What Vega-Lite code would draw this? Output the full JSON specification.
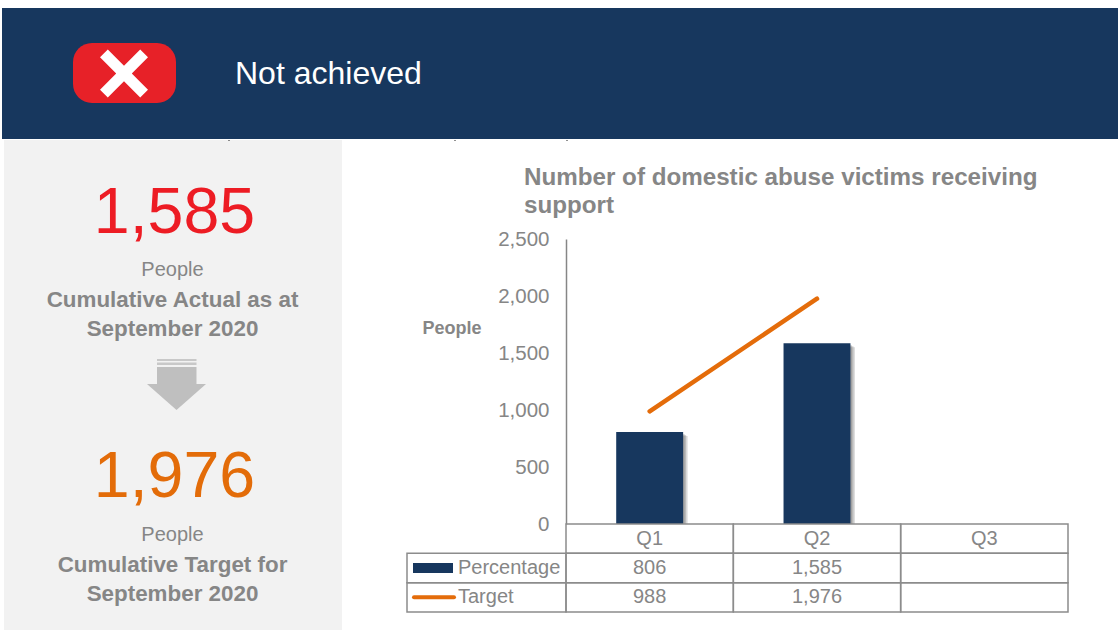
{
"$schema":"https://vega.github.io/schema/vega-lite/v6.json",
"background":"white",
"padding":{"left":2,"top":8,"right":0,"bottom":0},
"autosize":{"type":"pad","contains":"content"},
"config":{"view":{"stroke":null},"font":"Liberation Sans","text":{"font":"Liberation Sans"},"concat":{"spacing":0},"axis":{"labelFont":"Liberation Sans","titleFont":"Liberation Sans"}},
"datasets":{
"quarters":[{"quarter":"Q1","percentage":806,"target":988},{"quarter":"Q2","percentage":1585,"target":1976},{"quarter":"Q3"}],
"table":[
{"row":"Quarter","quarter":"Q1","label":"Q1"},{"row":"Quarter","quarter":"Q2","label":"Q2"},{"row":"Quarter","quarter":"Q3","label":"Q3"},
{"row":"Percentage","quarter":"Q1","label":"806"},{"row":"Percentage","quarter":"Q2","label":"1,585"},{"row":"Percentage","quarter":"Q3","label":""},
{"row":"Target","quarter":"Q1","label":"988"},{"row":"Target","quarter":"Q2","label":"1,976"},{"row":"Target","quarter":"Q3","label":""}],
"series":[{"row":"Percentage"},{"row":"Target"}]
},
"spacing":0,
"vconcat":[
{"width":1116,"height":131,"view":{"fill":"#17375E","stroke":null},
 "data":{"values":[{"status":"Not achieved"}]},
 "layer":[
  {"mark":{"type":"rect","fill":"#E72128","cornerRadius":19},"encoding":{
    "x":{"datum":73,"type":"quantitative","scale":{"domain":[2,1118],"nice":false,"zero":false},"axis":null},"x2":{"datum":176},
    "y":{"datum":43,"type":"quantitative","scale":{"domain":[139,8],"nice":false,"zero":false},"axis":null},"y2":{"datum":103}}},
  {"mark":{"type":"point","filled":true,"fill":"white","opacity":1,"strokeWidth":0,"size":2304,"shape":"M-1 -0.675L-0.675 -1L0 -0.325L0.675 -1L1 -0.675L0.325 0L1 0.675L0.675 1L0 0.325L-0.675 1L-1 0.675L-0.325 0Z"},"encoding":{
    "x":{"datum":124,"type":"quantitative"},"y":{"datum":73.5,"type":"quantitative"}}},
  {"mark":{"type":"text","align":"left","baseline":"middle","fontSize":32,"color":"white","font":"Liberation Sans"},"encoding":{
    "x":{"datum":235,"type":"quantitative"},"y":{"datum":74,"type":"quantitative"},"text":{"field":"status"}}}
 ]},
{"hconcat":[
 {"width":340,"height":491,
  "data":{"values":[{"big":"1,585","big2":"1,976","unit":"People","a1":"Cumulative Actual as at","a2":"September 2020","t1":"Cumulative Target for","t2":"September 2020"}]},
  "layer":[
  {"mark":{"type":"rect","fill":"#F2F2F2"},"encoding":{
    "x":{"datum":4,"type":"quantitative","scale":{"domain":[2,342],"nice":false,"zero":false},"axis":null},"x2":{"datum":342},
    "y":{"datum":139,"type":"quantitative","scale":{"domain":[630,139],"nice":false,"zero":false},"axis":null},"y2":{"datum":630}}},
  {"mark":{"type":"rule","stroke":"#222222","strokeWidth":1},"encoding":{"x":{"datum":229,"type":"quantitative"},"y":{"datum":139,"type":"quantitative"},"y2":{"datum":140}}},
  {"mark":{"type":"rect","fill":"#C8C8C8"},"encoding":{"x":{"datum":157,"type":"quantitative"},"x2":{"datum":196.5},"y":{"datum":358,"type":"quantitative"},"y2":{"datum":360}}},
  {"mark":{"type":"rect","fill":"#C8C8C8"},"encoding":{"x":{"datum":157,"type":"quantitative"},"x2":{"datum":196.5},"y":{"datum":361.5,"type":"quantitative"},"y2":{"datum":364}}},
  {"mark":{"type":"rect","fill":"#BFBFBF"},"encoding":{"x":{"datum":157,"type":"quantitative"},"x2":{"datum":196.5},"y":{"datum":366,"type":"quantitative"},"y2":{"datum":385}}},
  {"mark":{"type":"point","filled":true,"fill":"#BFBFBF","opacity":1,"strokeWidth":0,"size":3481,"shape":"M-1 -0.44L1 -0.44L0 0.44Z"},"encoding":{"x":{"datum":176.5,"type":"quantitative"},"y":{"datum":396,"type":"quantitative"}}},
  {"mark":{"type":"text","fontSize":64.5,"color":"#ED1C24","baseline":"middle"},"encoding":{"x":{"datum":174.5,"type":"quantitative"},"y":{"datum":212.5,"type":"quantitative"},"text":{"field":"big"}}},
  {"mark":{"type":"text","fontSize":20,"color":"#868686","baseline":"middle"},"encoding":{"x":{"datum":172.5,"type":"quantitative"},"y":{"datum":269,"type":"quantitative"},"text":{"field":"unit"}}},
  {"mark":{"type":"text","fontSize":22.4,"fontWeight":"bold","color":"#868686","baseline":"middle"},"encoding":{"x":{"datum":172.5,"type":"quantitative"},"y":{"datum":299,"type":"quantitative"},"text":{"field":"a1"}}},
  {"mark":{"type":"text","fontSize":22.4,"fontWeight":"bold","color":"#868686","baseline":"middle"},"encoding":{"x":{"datum":172.5,"type":"quantitative"},"y":{"datum":328,"type":"quantitative"},"text":{"field":"a2"}}},
  {"mark":{"type":"text","fontSize":64.5,"color":"#E36C09","baseline":"middle"},"encoding":{"x":{"datum":174.5,"type":"quantitative"},"y":{"datum":476.5,"type":"quantitative"},"text":{"field":"big2"}}},
  {"mark":{"type":"text","fontSize":20,"color":"#868686","baseline":"middle"},"encoding":{"x":{"datum":172.5,"type":"quantitative"},"y":{"datum":534,"type":"quantitative"},"text":{"field":"unit"}}},
  {"mark":{"type":"text","fontSize":22.4,"fontWeight":"bold","color":"#868686","baseline":"middle"},"encoding":{"x":{"datum":172.5,"type":"quantitative"},"y":{"datum":564,"type":"quantitative"},"text":{"field":"t1"}}},
  {"mark":{"type":"text","fontSize":22.4,"fontWeight":"bold","color":"#868686","baseline":"middle"},"encoding":{"x":{"datum":172.5,"type":"quantitative"},"y":{"datum":593,"type":"quantitative"},"text":{"field":"t2"}}}
 ]},
 {"spacing":0,"bounds":"flush","vconcat":[
  {"width":502,"height":99,
   "data":{"values":[{"t1":"Number of domestic abuse victims receiving","t2":"support"}]},
   "layer":[
    {"mark":{"type":"rule","stroke":"#222222","strokeWidth":1},"encoding":{"x":{"datum":455,"type":"quantitative","scale":{"domain":[566,1068],"nice":false,"zero":false},"axis":null},"y":{"datum":139,"type":"quantitative","scale":{"domain":[238,139],"nice":false,"zero":false},"axis":null},"y2":{"datum":140}}},
    {"mark":{"type":"rule","stroke":"#222222","strokeWidth":1},"encoding":{"x":{"datum":567,"type":"quantitative"},"y":{"datum":139,"type":"quantitative"},"y2":{"datum":140}}},
    {"mark":{"type":"text","align":"left","baseline":"middle","fontSize":24.2,"fontWeight":"bold","color":"#868686"},"encoding":{"x":{"datum":524,"type":"quantitative"},"y":{"datum":177,"type":"quantitative"},"text":{"field":"t1"}}},
    {"mark":{"type":"text","align":"left","baseline":"middle","fontSize":24.2,"fontWeight":"bold","color":"#868686"},"encoding":{"x":{"datum":524,"type":"quantitative"},"y":{"datum":205,"type":"quantitative"},"text":{"field":"t2"}}}
   ]},
  {"width":502,"height":285,
   "data":{"name":"quarters"},
   "encoding":{"x":{"field":"quarter","type":"nominal","scale":{"domain":["Q1","Q2","Q3"],"paddingInner":0.6,"paddingOuter":0.3},"axis":null}},
   "layer":[
    {"mark":{"type":"bar","fill":"#555555","opacity":0.25,"xOffset":1.5,"yOffset":2,"clip":true},"encoding":{"y":{"field":"percentage","type":"quantitative","scale":{"domain":[0,2500],"nice":false},
      "axis":{"values":[0,500,1000,1500,2000,2500],"format":",.0f","ticks":false,"grid":false,"domain":true,"domainColor":"#868686","domainWidth":1.5,"labelFontSize":20.5,"labelColor":"#868686","labelPadding":17,"minExtent":224,"maxExtent":224,"title":"People","titleAngle":0,"titleFontSize":18,"titleFontWeight":"bold","titleColor":"#868686","titleAlign":"center","titleBaseline":"middle","titleX":-114.5,"titleY":89}}}},
    {"mark":{"type":"bar","fill":"#555555","opacity":0.25,"xOffset":3,"yOffset":3,"clip":true},"encoding":{"y":{"field":"percentage","type":"quantitative"}}},
    {"mark":{"type":"bar","fill":"#555555","opacity":0.2,"xOffset":4.5,"yOffset":4,"clip":true},"encoding":{"y":{"field":"percentage","type":"quantitative"}}},
    {"mark":{"type":"bar","fill":"#17375E"},"encoding":{"y":{"field":"percentage","type":"quantitative"}}},
    {"mark":{"type":"line","stroke":"#E46C0A","strokeWidth":4.5,"strokeCap":"round"},"encoding":{"y":{"field":"target","type":"quantitative"}}}
   ]},
  {"width":502,"height":88,"resolve":{"scale":{"x":"independent"}},
   "layer":[
    {"data":{"name":"table"},
     "encoding":{"x":{"field":"quarter","type":"nominal","scale":{"domain":["Q1","Q2","Q3"],"padding":0},"axis":null},
      "y":{"field":"row","type":"nominal","scale":{"domain":["Quarter","Percentage","Target"]},"axis":null}},
     "layer":[
      {"mark":{"type":"rect","fill":"transparent","stroke":"#8C8C8C","strokeWidth":1.5}},
      {"mark":{"type":"text","baseline":"middle","fontSize":20,"color":"#868686"},"encoding":{"text":{"field":"label"}}}
     ]},
    {"data":{"name":"series"},
     "encoding":{"y":{"field":"row","type":"nominal","scale":{"domain":["Quarter","Percentage","Target"]},"axis":null}},
     "layer":[
      {"mark":{"type":"rect","fill":"transparent","stroke":"#8C8C8C","strokeWidth":1.5},"encoding":{"x":{"datum":407,"type":"quantitative","scale":{"domain":[566,1068],"nice":false,"zero":false},"axis":null},"x2":{"datum":566}}},
      {"transform":[{"filter":"datum.row==='Percentage'"}],"mark":{"type":"rule","stroke":"#17375E","strokeWidth":10},"encoding":{"x":{"datum":413,"type":"quantitative"},"x2":{"datum":453}}},
      {"transform":[{"filter":"datum.row==='Target'"}],"mark":{"type":"rule","stroke":"#E46C0A","strokeWidth":4,"strokeCap":"round"},"encoding":{"x":{"datum":414,"type":"quantitative"},"x2":{"datum":454}}},
      {"mark":{"type":"text","align":"left","baseline":"middle","fontSize":20,"color":"#868686"},"encoding":{"x":{"datum":458,"type":"quantitative"},"text":{"field":"row"}}}
     ]}
   ]}
 ]}
]}
]}
